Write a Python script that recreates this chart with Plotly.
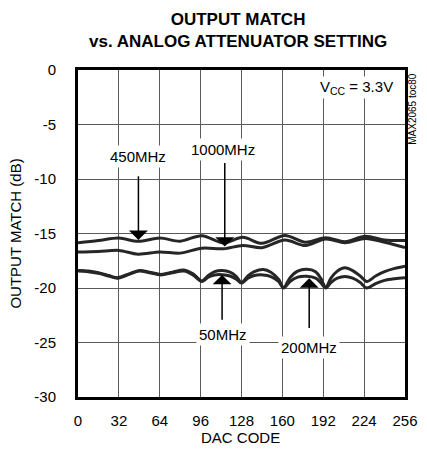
import plotly.graph_objects as go

# ---- data ----
dac_top = [0, 16, 32, 47, 64, 80, 97, 114, 129, 144, 162, 178, 194, 209, 225, 240, 256]
m450 = [-15.85, -15.65, -15.42, -15.72, -15.42, -15.7, -15.2, -15.85, -15.35, -15.9,
        -15.18, -15.8, -15.38, -15.75, -15.25, -15.6, -15.65]
m1000 = [-16.7, -16.65, -16.55, -16.9, -16.7, -16.8, -16.35, -16.4, -16.1, -16.3,
         -15.6, -16.1, -15.5, -15.85, -15.45, -15.8, -16.3]

dac_low = [0, 8, 16, 24, 31, 40, 48, 56, 65, 74, 83, 90, 97, 102, 107, 113, 119, 124,
           128, 133, 138, 145, 151, 157, 161, 166, 172, 179, 186, 190, 194, 198, 203,
           209, 215, 221, 226, 233, 240, 248, 256]
m50 = [-18.4, -18.45, -18.6, -18.85, -19.05, -18.7, -18.4, -18.55, -18.75, -18.55,
       -18.35, -18.7, -19.35, -18.85, -18.5, -18.4, -18.55, -18.95, -19.5, -18.9,
       -18.5, -18.3, -18.55, -19.2, -19.95, -19.05, -18.45, -18.28, -18.5, -19.1,
       -19.95, -19.1, -18.45, -18.15, -18.4, -18.9, -19.4, -18.9, -18.5, -18.2, -18.0]
m200 = [-18.45, -18.5, -18.65, -18.9, -19.1, -18.75, -18.45, -18.6, -18.8, -18.6,
        -18.45, -18.8, -19.4, -19.0, -18.8, -18.78, -18.9, -19.2, -19.55, -19.1,
        -18.85, -18.8, -18.95, -19.4, -20.0, -19.4, -19.0, -18.92, -19.1, -19.5,
        -20.0, -19.5, -19.1, -18.95, -19.1, -19.5, -20.0, -19.6, -19.3, -19.15, -19.07]

x_ticks = [0, 32, 64, 96, 128, 160, 192, 224, 256]
y_ticks = [0, -5, -10, -15, -20, -25, -30]

FONT = "Liberation Sans, Arial, Helvetica, sans-serif"
LINE = "#262626"

fig = go.Figure()
for xs, ys in [(dac_top, m450), (dac_top, m1000), (dac_low, m50), (dac_low, m200)]:
    fig.add_trace(go.Scatter(x=xs, y=ys, mode="lines",
                             line=dict(color=LINE, width=3, shape="spline", smoothing=0.9),
                             showlegend=False, hoverinfo="skip"))

# labels with arrows: text, text x, text y, arrow x, arrow tail y, arrow tip y
labels = [
    ("450MHz", 47.3, -7.94, 47.3, -9.6, -15.6),
    ("1000MHz", 113.5, -7.29, 114.9, -8.4, -16.2),
    ("50MHz", 113.5, -24.27, 112.8, -23.05, -18.8),
    ("200MHz", 180.5, -25.46, 181.0, -23.8, -19.1),
]
for txt, tx, ty, axx, tail, tip in labels:
    fig.add_annotation(x=axx, y=tip, ax=axx, ay=tail, axref="x", ayref="y",
                       xref="x", yref="y", text="", showarrow=True,
                       arrowhead=1, arrowsize=2.1, arrowwidth=1.5, arrowcolor="black")
    fig.add_annotation(x=tx, y=ty, xref="x", yref="y", text=txt, showarrow=False,
                       font=dict(family=FONT, size=15, color="black"),
                       bgcolor="white", borderpad=2)

fig.add_annotation(x=218, y=-1.6, xref="x", yref="y",
                   text="V<sub>CC</sub> = 3.3V", showarrow=False,
                   font=dict(family=FONT, size=15, color="black"),
                   bgcolor="white", borderpad=1)

fig.add_annotation(x=1.024, y=0.881, xref="paper", yref="paper", text="MAX2065 toc80",
                   textangle=-90, showarrow=False, xanchor="center", yanchor="middle",
                   font=dict(family=FONT, size=10, color="black"))

fig.add_annotation(x=-0.1924, y=0.5, xref="paper", yref="paper", text="OUTPUT MATCH (dB)",
                   textangle=-90, showarrow=False, xanchor="center", yanchor="middle",
                   font=dict(family=FONT, size=15, color="black"))
fig.add_annotation(x=0.497, y=-0.124, xref="paper", yref="paper", text="DAC CODE",
                   showarrow=False, xanchor="center", yanchor="middle",
                   font=dict(family=FONT, size=15, color="black"))

fig.add_annotation(x=0.4885, y=1.1206, xref="paper", yref="paper",
                   text="<b>OUTPUT MATCH<br>vs. ANALOG ATTENUATOR SETTING</b>",
                   showarrow=False, xanchor="center", yanchor="middle",
                   font=dict(family=FONT, size=17, color="black"))

fig.update_xaxes(range=[0, 256], tickvals=x_ticks, ticktext=[str(v) for v in x_ticks],
                 showgrid=True, gridcolor="#5a5a5a", gridwidth=1.3,
                 showline=True, linecolor="black", linewidth=3, mirror=True,
                 zeroline=False, ticks="", ticklabelstandoff=8, automargin=False,
                 tickfont=dict(family=FONT, size=15, color="black"))
fig.update_yaxes(range=[-30, 0], tickvals=y_ticks, ticktext=[str(v) for v in y_ticks],
                 showgrid=True, gridcolor="#5a5a5a", gridwidth=1.3,
                 showline=True, linecolor="black", linewidth=3, mirror=True,
                 zeroline=False, ticks="", ticklabelstandoff=16, automargin=False,
                 tickfont=dict(family=FONT, size=15, color="black"))

# the page body has an 8px margin, so the figure is 8px smaller on each side
fig.update_layout(width=419, height=449,
                  margin=dict(l=70, r=21.5, t=62, b=59.5),
                  plot_bgcolor="white", paper_bgcolor="white")

fig.write_html("out.html")
